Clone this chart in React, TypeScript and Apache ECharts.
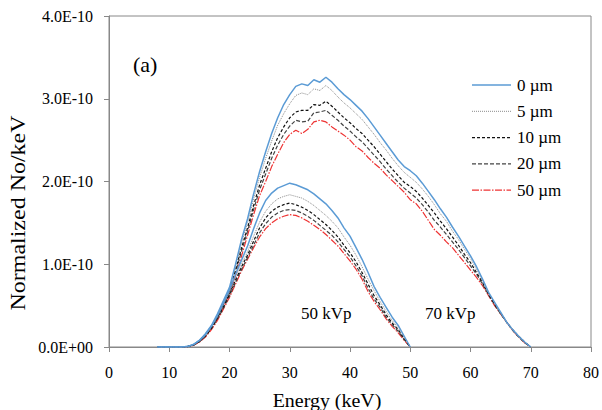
import React, { useEffect, useRef } from "react";
import * as echarts from "echarts";

const SCALE = 1e-10;
const yTicks = [0, 1e-10, 2e-10, 3e-10, 4e-10];
const legendNames = ["0 µm", "5 µm", "10 µm", "20 µm", "50 µm"];

const energy70 = Array.from({ length: 63 }, (_, i) => 8 + i); // 8..70 keV
const energy50 = Array.from({ length: 43 }, (_, i) => 8 + i); // 8..50 keV

// 70 kVp, values in units of 1e-10
const kv70_0um = [0, 0, 0, 0, 0, 0.005, 0.03, 0.08, 0.16, 0.26, 0.4, 0.56, 0.72, 1.0, 1.3, 1.55, 1.85, 2.12, 2.36, 2.58, 2.77, 2.93, 3.05, 3.15, 3.18, 3.16, 3.23, 3.2, 3.26, 3.2, 3.12, 3.05, 2.99, 2.92, 2.85, 2.76, 2.66, 2.56, 2.46, 2.36, 2.26, 2.18, 2.13, 2.07, 1.98, 1.88, 1.78, 1.67, 1.57, 1.45, 1.34, 1.22, 1.1, 0.97, 0.82, 0.66, 0.54, 0.42, 0.3, 0.21, 0.13, 0.06, 0];
const kv70_5um = [0, 0, 0, 0, 0, 0.005, 0.03, 0.075, 0.15, 0.25, 0.38, 0.54, 0.7, 0.97, 1.26, 1.5, 1.79, 2.05, 2.28, 2.49, 2.68, 2.82, 2.94, 3.04, 3.07, 3.05, 3.12, 3.1, 3.16, 3.1, 3.02, 2.95, 2.89, 2.82, 2.75, 2.66, 2.57, 2.47, 2.38, 2.28, 2.19, 2.11, 2.05, 1.99, 1.91, 1.82, 1.72, 1.61, 1.52, 1.4, 1.3, 1.18, 1.07, 0.94, 0.8, 0.65, 0.53, 0.41, 0.3, 0.21, 0.13, 0.06, 0];
const kv70_10um = [0, 0, 0, 0, 0, 0.005, 0.025, 0.07, 0.145, 0.24, 0.37, 0.52, 0.68, 0.93, 1.2, 1.44, 1.71, 1.96, 2.16, 2.36, 2.53, 2.66, 2.77, 2.84, 2.86, 2.86, 2.93, 2.92, 2.97, 2.91, 2.84, 2.77, 2.71, 2.64, 2.58, 2.5, 2.42, 2.33, 2.24, 2.15, 2.07, 1.99, 1.94, 1.88, 1.8, 1.71, 1.62, 1.52, 1.43, 1.33, 1.23, 1.12, 1.02, 0.9, 0.78, 0.64, 0.52, 0.41, 0.3, 0.21, 0.13, 0.06, 0];
const kv70_20um = [0, 0, 0, 0, 0, 0.004, 0.022, 0.065, 0.14, 0.23, 0.36, 0.51, 0.66, 0.9, 1.16, 1.4, 1.66, 1.9, 2.09, 2.28, 2.44, 2.57, 2.67, 2.74, 2.72, 2.73, 2.83, 2.84, 2.86, 2.8, 2.74, 2.67, 2.61, 2.54, 2.48, 2.4, 2.32, 2.24, 2.15, 2.07, 1.99, 1.92, 1.86, 1.8, 1.72, 1.63, 1.53, 1.45, 1.36, 1.27, 1.18, 1.08, 0.98, 0.88, 0.76, 0.63, 0.51, 0.4, 0.3, 0.2, 0.12, 0.05, 0];
const kv70_50um = [0, 0, 0, 0, 0, 0.004, 0.02, 0.06, 0.13, 0.22, 0.34, 0.49, 0.64, 0.86, 1.1, 1.35, 1.6, 1.83, 2.0, 2.18, 2.33, 2.47, 2.57, 2.62, 2.58, 2.63, 2.72, 2.74, 2.72, 2.66, 2.61, 2.56, 2.5, 2.42, 2.37, 2.29, 2.22, 2.16, 2.08, 2.01, 1.94, 1.87, 1.78, 1.73, 1.64, 1.53, 1.42, 1.35, 1.27, 1.2, 1.11, 1.02, 0.93, 0.84, 0.74, 0.62, 0.5, 0.4, 0.3, 0.2, 0.12, 0.05, 0];

// 50 kVp, values in units of 1e-10
const kv50_0um = [0, 0, 0, 0, 0, 0.005, 0.03, 0.08, 0.15, 0.25, 0.38, 0.53, 0.69, 0.88, 1.05, 1.22, 1.43, 1.62, 1.77, 1.86, 1.92, 1.95, 1.98, 1.96, 1.93, 1.9, 1.85, 1.79, 1.73, 1.65, 1.56, 1.44, 1.34, 1.2, 1.06, 0.9, 0.73, 0.6, 0.48, 0.36, 0.26, 0.13, 0];
const kv50_5um = [0, 0, 0, 0, 0, 0.005, 0.028, 0.075, 0.14, 0.24, 0.36, 0.51, 0.66, 0.84, 1.0, 1.15, 1.34, 1.51, 1.64, 1.73, 1.79, 1.82, 1.84, 1.82, 1.8, 1.76, 1.71, 1.65, 1.59, 1.52, 1.44, 1.33, 1.23, 1.11, 0.97, 0.82, 0.68, 0.55, 0.43, 0.32, 0.23, 0.11, 0];
const kv50_10um = [0, 0, 0, 0, 0, 0.005, 0.025, 0.07, 0.135, 0.23, 0.35, 0.49, 0.64, 0.81, 0.97, 1.11, 1.28, 1.44, 1.56, 1.64, 1.69, 1.72, 1.74, 1.72, 1.69, 1.65, 1.6, 1.54, 1.48, 1.41, 1.33, 1.23, 1.14, 1.03, 0.9, 0.76, 0.62, 0.51, 0.39, 0.29, 0.21, 0.1, 0];
const kv50_20um = [0, 0, 0, 0, 0, 0.004, 0.022, 0.065, 0.13, 0.22, 0.34, 0.47, 0.62, 0.78, 0.94, 1.08, 1.23, 1.38, 1.49, 1.57, 1.62, 1.65, 1.66, 1.65, 1.62, 1.58, 1.53, 1.47, 1.41, 1.35, 1.27, 1.18, 1.09, 0.98, 0.86, 0.71, 0.58, 0.48, 0.36, 0.27, 0.19, 0.09, 0];
const kv50_50um = [0, 0, 0, 0, 0, 0.004, 0.02, 0.06, 0.12, 0.21, 0.32, 0.46, 0.6, 0.76, 0.92, 1.06, 1.2, 1.33, 1.43, 1.5, 1.55, 1.58, 1.6, 1.59, 1.56, 1.52, 1.47, 1.42, 1.36, 1.29, 1.22, 1.13, 1.04, 0.94, 0.82, 0.67, 0.55, 0.45, 0.34, 0.25, 0.17, 0.08, 0];

const SERIF = "Liberation Serif";

const styles = [
  { color: "#5b9bd5", type: "solid" as any, width: 1.5 },
  { color: "#8a8a8a", type: [1, 1] as any, width: 1 },
  { color: "#111111", type: [3, 2] as any, width: 1.2 },
  { color: "#444444", type: [4, 2] as any, width: 1.2 },
  { color: "#ee3333", type: [7, 1.5, 1.5, 1.5] as any, width: 1.2 },
];

function pairs(xs: number[], ys: number[]) {
  return xs.map((x, i) => [x, ys[i] * SCALE]);
}

export default function App() {
  const ref = useRef<HTMLDivElement>(null);
  useEffect(() => {
    if (!ref.current) return;
    const chart = echarts.init(ref.current, undefined, { renderer: "svg" });
    const sets70 = [kv70_0um, kv70_5um, kv70_10um, kv70_20um, kv70_50um];
    const sets50 = [kv50_0um, kv50_5um, kv50_10um, kv50_20um, kv50_50um];
    const order = [4, 3, 2, 1, 0];
    const series: any[] = [];
    order.forEach((k) => {
      [
        [energy70, sets70[k]],
        [energy50, sets50[k]],
      ].forEach(([xs, ys]) => {
        series.push({
          type: "line",
          name: legendNames[k],
          data: pairs(xs as number[], ys as number[]),
          showSymbol: false,
          symbol: "none",
          lineStyle: styles[k],
          itemStyle: { color: styles[k].color },
          z: 10 - k,
        });
      });
    });

    const legendGraphics: any[] = [];
    legendNames.forEach((name, k) => {
      const y = 85 + k * 26.3;
      legendGraphics.push({
        type: "line",
        shape: { x1: 472, y1: y, x2: 511, y2: y },
        style: {
          stroke: styles[k].color,
          lineWidth: styles[k].width,
          lineDash: Array.isArray(styles[k].type) ? styles[k].type : null,
        },
      });
      legendGraphics.push({
        type: "text",
        x: 517,
        y,
        style: {
          text: name,
          fontFamily: SERIF,
          fontSize: 17,
          fill: "#000",
          verticalAlign: "middle",
        },
      });
    });

    chart.setOption({
      animation: false,
      backgroundColor: "#ffffff",
      grid: {
        left: 109,
        right: 9,
        top: 16,
        bottom: 63,
        show: true,
        borderColor: "#888888",
        borderWidth: 1,
      },
      xAxis: {
        type: "value",
        min: 0,
        max: 80,
        interval: 10,
        axisLine: { lineStyle: { color: "#888888" } },
        axisTick: { show: true, length: 5, lineStyle: { color: "#888888" } },
        splitLine: { show: false },
        axisLabel: { fontFamily: SERIF, fontSize: 16, color: "#000", margin: 17 },
      },
      yAxis: {
        type: "value",
        min: 0,
        max: 4e-10,
        interval: 1e-10,
        axisLine: { show: true, lineStyle: { color: "#888888" } },
        axisTick: { show: true, length: 5, lineStyle: { color: "#888888" } },
        splitLine: { show: false },
        axisLabel: {
          fontFamily: SERIF,
          fontSize: 16,
          color: "#000",
          margin: 16,
          formatter: (v: number) => {
            const idx = yTicks.findIndex((t) => Math.abs(t - v) < 1e-14);
            if (v === 0 || idx === 0) return "0.0E+00";
            return (v / SCALE).toFixed(1) + "E-10";
          },
        },
      },
      graphic: [
        ...legendGraphics,
        {
          type: "text",
          left: 133,
          top: 53,
          style: { text: "(a)", fontFamily: SERIF, fontSize: 22, fill: "#000" },
        },
        {
          type: "text",
          left: 301,
          top: 305,
          style: { text: "50 kVp", fontFamily: SERIF, fontSize: 17, fill: "#000" },
        },
        {
          type: "text",
          left: 425,
          top: 305,
          style: { text: "70 kVp", fontFamily: SERIF, fontSize: 17, fill: "#000" },
        },
        {
          type: "text",
          x: 327,
          y: 401,
          scaleX: 1.05,
          style: {
            text: "Energy (keV)",
            fontFamily: SERIF,
            fontSize: 19,
            fill: "#000",
            align: "center",
            verticalAlign: "middle",
          },
        },
        {
          type: "text",
          x: 18,
          y: 213,
          rotation: Math.PI / 2,
          scaleX: 1.2,
          style: {
            text: "Normalized No/keV",
            fontFamily: SERIF,
            fontSize: 20,
            fill: "#000",
            align: "center",
            verticalAlign: "middle",
          },
        },
      ],
      series,
    });
    return () => chart.dispose();
  }, []);
  return (
    <div
      ref={ref}
      style={{ position: "absolute", left: 0, top: 0, width: 602, height: 410 }}
    />
  );
}
